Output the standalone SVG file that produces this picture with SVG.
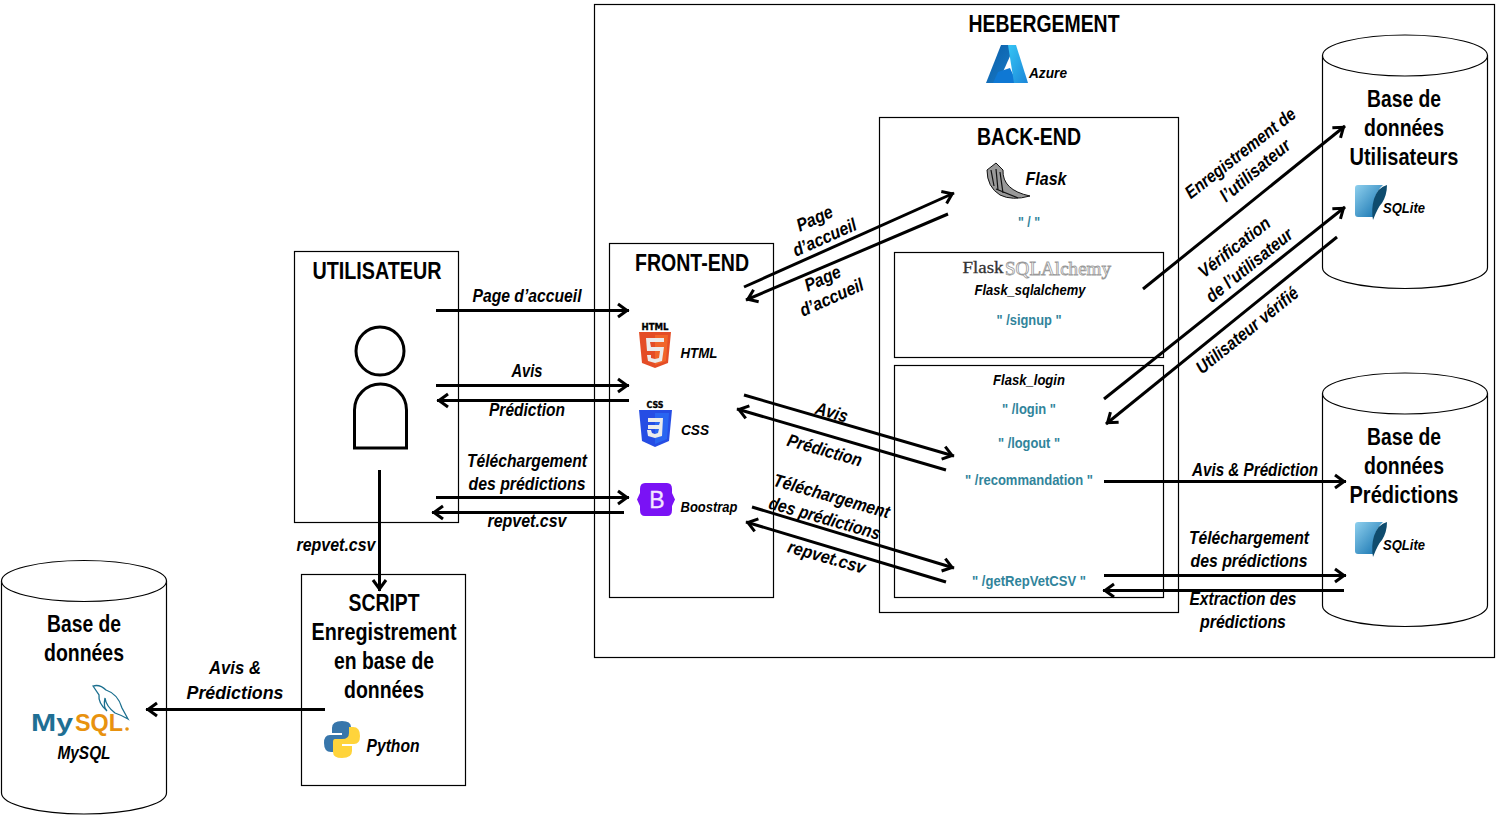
<svg xmlns="http://www.w3.org/2000/svg" width="1496" height="817" viewBox="0 0 1496 817">
<style>
text{font-family:"Liberation Sans",Arial,sans-serif;fill:#000;text-anchor:middle}
.h{font-size:24px;font-weight:700}
.l{font-size:18px;font-weight:700;font-style:italic}
.s{font-size:15px;font-weight:700;font-style:italic}
.r{font-size:15px;font-weight:700;fill:#31849b}
.b{fill:#fff;stroke:#000;stroke-width:1.2}
.a{fill:none;stroke:#000;stroke-width:3;marker-end:url(#m)}
</style>
<defs>
<marker id="m" markerUnits="userSpaceOnUse" markerWidth="20" markerHeight="20" refX="17" refY="10" orient="auto"><path d="M6 3.500L15 10L6 16.500" fill="none" stroke="#000" stroke-width="3"/></marker>
<linearGradient id="az" x1="0" y1="0" x2="1" y2="1"><stop offset="0" stop-color="#0a5ea8"/><stop offset="1" stop-color="#1a7cc8"/></linearGradient>
<linearGradient id="az2" x1="0" y1="0" x2="1" y2="1"><stop offset="0" stop-color="#35c5f5"/><stop offset="1" stop-color="#1c86d8"/></linearGradient>
<linearGradient id="sq" x1="0" y1="0" x2="1" y2="1"><stop offset="0" stop-color="#8fd0ee"/><stop offset="1" stop-color="#0c6cab"/></linearGradient>
<g id="sqlite"><path d="M1 3Q1 0 4 0H29Q22 6 20 17L19 32H4Q1 32 1 29Z" fill="url(#sq)"/><path d="M33 0Q24 2 20 14Q17 24 19 35Q24 22 28 18Q33 10 33 0Z" fill="#0f4c6e"/></g>
<g id="cyl"><path class="b" d="M0 21V233A82.500 21 0 0 0 165 233V21"/><ellipse class="b" cx="82.500" cy="21" rx="82.500" ry="20.500"/></g>
</defs>

<g id="hebergement"><rect class="b" x="594.500" y="4.500" width="900" height="653"/>
<text class="h" x="1044" y="32" textLength="151" lengthAdjust="spacingAndGlyphs">HEBERGEMENT</text>
<path d="M1001 45H1015L998 83H986Z" fill="url(#az)"/><path d="M998 72L1010 68L1017 83H993Z" fill="#0f78d4"/><path d="M1008 45H1016L1028 83H1014Z" fill="url(#az2)"/>
<text class="s" x="1048" y="78" textLength="38" lengthAdjust="spacingAndGlyphs">Azure</text></g>

<g id="backend"><rect class="b" x="879.500" y="117.500" width="299" height="495"/>
<text class="h" x="1029" y="145" textLength="104" lengthAdjust="spacingAndGlyphs">BACK-END</text>
<path d="M987 170L996 163L1003 170Q1002 190 1030 196Q1012 201 1000 195Q987 187 987 170Z" fill="#999" stroke="#111"/><path d="M991 170L994 186M996 169L998 190M1000 172L1003 193M996 189L1018 198" stroke="#111" stroke-width="1.200" fill="none"/>
<text class="l" x="1046" y="185" textLength="41" lengthAdjust="spacingAndGlyphs">Flask</text>
<text class="r" x="1029" y="227" textLength="22" lengthAdjust="spacingAndGlyphs">" / "</text></g>

<g id="flask-sqlalchemy"><rect class="b" x="894.500" y="252.500" width="269" height="105"/>
<text x="983" y="273" font-size="17" style="font-family:'Liberation Serif',serif;fill:#333;stroke:#333;stroke-width:.3" textLength="41" lengthAdjust="spacingAndGlyphs">Flask</text>
<text x="1058" y="275" font-size="19" style="font-family:'Liberation Serif',serif;fill:#fff;stroke:#999;stroke-width:.8" textLength="106" lengthAdjust="spacingAndGlyphs">SQLAlchemy</text>
<text class="s" x="1030" y="295" textLength="111" lengthAdjust="spacingAndGlyphs">Flask_sqlalchemy</text>
<text class="r" x="1029" y="325" textLength="65" lengthAdjust="spacingAndGlyphs">" /signup "</text></g>

<g id="flask-login"><rect class="b" x="894.500" y="365.500" width="269" height="232"/>
<text class="s" x="1029" y="385" textLength="72" lengthAdjust="spacingAndGlyphs">Flask_login</text>
<text class="r" x="1029" y="414" textLength="54" lengthAdjust="spacingAndGlyphs">" /login "</text>
<text class="r" x="1029" y="448" textLength="62" lengthAdjust="spacingAndGlyphs">" /logout "</text>
<text class="r" x="1029" y="485" textLength="128" lengthAdjust="spacingAndGlyphs">" /recommandation "</text>
<text class="r" x="1029" y="586" textLength="114" lengthAdjust="spacingAndGlyphs">" /getRepVetCSV "</text></g>

<g id="frontend"><rect class="b" x="609.500" y="243.500" width="164" height="354"/>
<text class="h" x="692" y="271" textLength="114" lengthAdjust="spacingAndGlyphs">FRONT-END</text>
<text x="655" y="330" style="font-family:'DejaVu Sans',sans-serif;font-weight:700;stroke:#000;stroke-width:.3" font-size="8" textLength="27" lengthAdjust="spacingAndGlyphs">HTML</text>
<path d="M639 332H671L668 363L655 368L642 363Z" fill="#e44d26"/><path d="M655 335H668L666 361L655 365Z" fill="#f16529"/>
<path d="M664 338H646L647 351H660L659 358L655 359L651 358V355H647L648 361L655 363L662 361L664 347H651L650 342H664Z" fill="#ebebeb"/>
<text class="s" x="699" y="358" textLength="37" lengthAdjust="spacingAndGlyphs">HTML</text>
<text x="655" y="408" style="font-family:'DejaVu Sans',sans-serif;font-weight:700;stroke:#000;stroke-width:.3" font-size="8" textLength="17" lengthAdjust="spacingAndGlyphs">CSS</text>
<path d="M639 410H672L669 441L655 447L642 441Z" fill="#264de4"/><path d="M655 413H669L667 439L655 444Z" fill="#2965f1"/>
<path d="M648 418H663L662 436L655 438L648 436L647 430H651L652 433L655 434L658 433L659 429H648V425H659L660 422H648Z" fill="#ebebeb"/>
<text class="s" x="695" y="435" textLength="28" lengthAdjust="spacingAndGlyphs">CSS</text>
<path d="M645 483H667Q672 483 672 489V493L675 499.500L672 506V510Q672 516 667 516H645Q640 516 640 510V506L637 499.500L640 493V489Q640 483 645 483Z" fill="#7a12f5"/>
<text x="657" y="508" font-size="23" style="fill:#f3e6ff;stroke:#f3e6ff;stroke-width:.3">B</text>
<text class="s" x="709" y="512" textLength="57" lengthAdjust="spacingAndGlyphs">Boostrap</text></g>

<g id="utilisateur"><rect class="b" x="294.500" y="251.500" width="164" height="271"/>
<text class="h" x="377" y="279" textLength="129" lengthAdjust="spacingAndGlyphs">UTILISATEUR</text>
<circle cx="380" cy="351" r="24" fill="#fff" stroke="#000" stroke-width="3"/>
<path d="M354.500 448V410A26 26 0 0 1 406.500 410V448Z" fill="#fff" stroke="#000" stroke-width="3"/></g>

<g id="script"><rect class="b" x="301.500" y="574.500" width="164" height="211"/>
<text class="h" x="384" y="611" textLength="71" lengthAdjust="spacingAndGlyphs">SCRIPT</text>
<text class="h" x="384" y="640" textLength="145" lengthAdjust="spacingAndGlyphs">Enregistrement</text>
<text class="h" x="384" y="669" textLength="100" lengthAdjust="spacingAndGlyphs">en base de</text>
<text class="h" x="384" y="698" textLength="80" lengthAdjust="spacingAndGlyphs">données</text>
<path d="M342 721Q332 721 332 728V733H342V735H330Q324 735 324 743Q324 752 331 752H335V746Q335 740 342 740H349Q351 740 351 737V727Q351 721 342 721Z" fill="#3776ab"/>
<path d="M342 758Q352 758 352 751V746H342V744H354Q360 744 360 736Q360 727 353 727H349V733Q349 739 342 739H335Q333 739 333 742V752Q333 758 342 758Z" fill="#ffd43b"/>
<text class="l" x="393" y="752" textLength="53" lengthAdjust="spacingAndGlyphs">Python</text></g>

<g id="db-mysql"><use href="#cyl" x="1.500" y="560"/>
<text class="h" x="84" y="632" textLength="74" lengthAdjust="spacingAndGlyphs">Base de</text>
<text class="h" x="84" y="661" textLength="80" lengthAdjust="spacingAndGlyphs">données</text>
<path d="M93 686Q100 684 106 690Q118 694 122 708L128 719Q121 715 115 713Q106 706 105 698Q103 707 107 711Q98 703 99 695Z" fill="#fff" stroke="#1b6f8f" stroke-width="1.300"/>
<text x="52" y="731" font-size="23" font-weight="700" style="fill:#1f6f94" textLength="42" lengthAdjust="spacingAndGlyphs">My</text>
<text x="99" y="731" font-size="23" font-weight="700" style="fill:#e8920f" textLength="48" lengthAdjust="spacingAndGlyphs">SQL</text>
<circle cx="127" cy="729" r="1.800" fill="#e8920f"/>
<text class="l" x="84" y="759" textLength="53" lengthAdjust="spacingAndGlyphs">MySQL</text></g>

<g id="db-utilisateurs"><use href="#cyl" x="1322.500" y="34.500"/>
<text class="h" x="1404" y="107" textLength="74" lengthAdjust="spacingAndGlyphs">Base de</text>
<text class="h" x="1404" y="136" textLength="80" lengthAdjust="spacingAndGlyphs">données</text>
<text class="h" x="1404" y="165" textLength="109" lengthAdjust="spacingAndGlyphs">Utilisateurs</text>
<use href="#sqlite" x="1354" y="185"/>
<text class="s" x="1404" y="213" textLength="42" lengthAdjust="spacingAndGlyphs">SQLite</text></g>

<g id="db-predictions"><use href="#cyl" x="1322.500" y="372.500"/>
<text class="h" x="1404" y="445" textLength="74" lengthAdjust="spacingAndGlyphs">Base de</text>
<text class="h" x="1404" y="474" textLength="80" lengthAdjust="spacingAndGlyphs">données</text>
<text class="h" x="1404" y="503" textLength="109" lengthAdjust="spacingAndGlyphs">Prédictions</text>
<use href="#sqlite" x="1354" y="522"/>
<text class="s" x="1404" y="550" textLength="42" lengthAdjust="spacingAndGlyphs">SQLite</text></g>

<g id="connectors">
<path class="a" d="M436 310.500H629"/>
<path class="a" d="M436 385.500H629"/>
<path class="a" d="M629 400.500H437"/>
<path class="a" d="M436 497.500H629"/>
<path class="a" d="M624 512.500H432"/>
<path class="a" d="M379.500 470V591"/>
<path class="a" d="M325 709.500H146"/>
<path class="a" d="M744 287L954 193"/>
<path class="a" d="M948 214L746 300"/>
<path class="a" d="M744 395L954 456"/>
<path class="a" d="M946 470L737 409"/>
<path class="a" d="M752 507L954 568"/>
<path class="a" d="M946 582L746 522"/>
<path class="a" d="M1143 289L1345 126"/>
<path class="a" d="M1104 399L1345 207"/>
<path class="a" d="M1337 237L1106 424"/>
<path class="a" d="M1104 481.500H1346"/>
<path class="a" d="M1104 575.500H1346"/>
<path class="a" d="M1344 590.500H1103"/>
</g>

<g id="labels">
<text class="l" x="527" y="302" textLength="109" lengthAdjust="spacingAndGlyphs">Page d’accueil</text>
<text class="l" x="527" y="377" textLength="31" lengthAdjust="spacingAndGlyphs">Avis</text>
<text class="l" x="527" y="416" textLength="76" lengthAdjust="spacingAndGlyphs">Prédiction</text>
<text class="l" x="527" y="467" textLength="120" lengthAdjust="spacingAndGlyphs">Téléchargement</text>
<text class="l" x="527" y="490" textLength="117" lengthAdjust="spacingAndGlyphs">des prédictions</text>
<text class="l" x="527" y="527" textLength="79" lengthAdjust="spacingAndGlyphs">repvet.csv</text>
<text class="l" x="336" y="551" textLength="79" lengthAdjust="spacingAndGlyphs">repvet.csv</text>
<text class="l" x="235" y="674" textLength="52" lengthAdjust="spacingAndGlyphs">Avis &amp;</text>
<text class="l" x="235" y="699" textLength="97" lengthAdjust="spacingAndGlyphs">Prédictions</text>
<text class="l" transform="translate(817 224) rotate(-24)" textLength="38" lengthAdjust="spacingAndGlyphs">Page</text>
<text class="l" transform="translate(827 243) rotate(-24)" textLength="68" lengthAdjust="spacingAndGlyphs">d’accueil</text>
<text class="l" transform="translate(825 284) rotate(-24)" textLength="38" lengthAdjust="spacingAndGlyphs">Page</text>
<text class="l" transform="translate(834 303) rotate(-24)" textLength="68" lengthAdjust="spacingAndGlyphs">d’accueil</text>
<text class="l" transform="translate(830 418) rotate(16)" textLength="33" lengthAdjust="spacingAndGlyphs">Avis</text>
<text class="l" transform="translate(823 456) rotate(16)" textLength="77" lengthAdjust="spacingAndGlyphs">Prédiction</text>
<text class="l" transform="translate(830 502) rotate(16)" textLength="120" lengthAdjust="spacingAndGlyphs">Téléchargement</text>
<text class="l" transform="translate(823 524) rotate(16)" textLength="115" lengthAdjust="spacingAndGlyphs">des prédictions</text>
<text class="l" transform="translate(825 563) rotate(16)" textLength="80" lengthAdjust="spacingAndGlyphs">repvet.csv</text>
<text class="l" transform="translate(1244 158) rotate(-38)" textLength="135" lengthAdjust="spacingAndGlyphs">Enregistrement de</text>
<text class="l" transform="translate(1259 175) rotate(-40)" textLength="86" lengthAdjust="spacingAndGlyphs">l’utilisateur</text>
<text class="l" transform="translate(1238 252) rotate(-38)" textLength="86" lengthAdjust="spacingAndGlyphs">Vérification</text>
<text class="l" transform="translate(1253 270) rotate(-39)" textLength="106" lengthAdjust="spacingAndGlyphs">de l’utilisateur</text>
<text class="l" transform="translate(1251 335) rotate(-39)" textLength="126" lengthAdjust="spacingAndGlyphs">Utilisateur vérifié</text>
<text class="l" x="1255" y="476" textLength="126" lengthAdjust="spacingAndGlyphs">Avis &amp; Prédiction</text>
<text class="l" x="1249" y="544" textLength="120" lengthAdjust="spacingAndGlyphs">Téléchargement</text>
<text class="l" x="1249" y="567" textLength="117" lengthAdjust="spacingAndGlyphs">des prédictions</text>
<text class="l" x="1243" y="605" textLength="107" lengthAdjust="spacingAndGlyphs">Extraction des</text>
<text class="l" x="1243" y="628" textLength="86" lengthAdjust="spacingAndGlyphs">prédictions</text>
</g>
</svg>
